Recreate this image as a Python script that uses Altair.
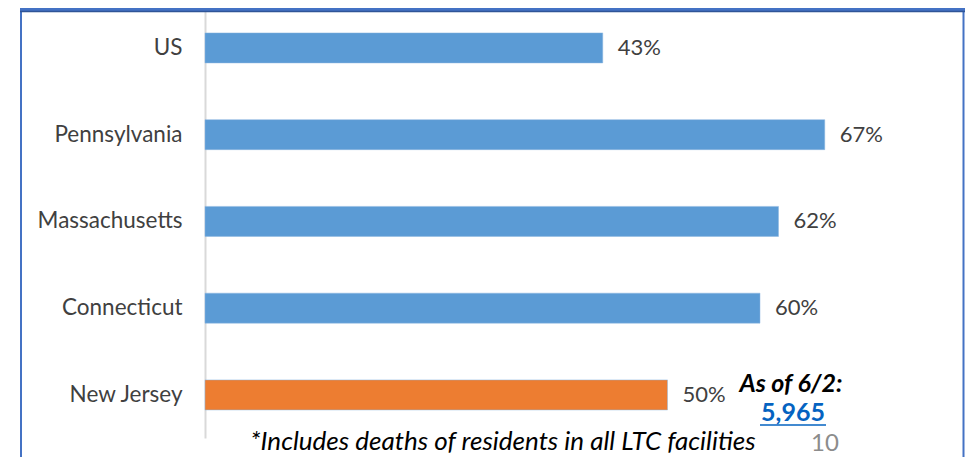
import altair as alt
import pandas as pd

states = ["US", "Pennsylvania", "Massachusetts", "Connecticut", "New Jersey"]
shares = [43, 67, 62, 60, 50]
labels = ["43%", "67%", "62%", "60%", "50%"]
highlight = ["other", "other", "other", "other", "NJ"]

footnote = "*Includes deaths of residents in all LTC facilities"
note_title = "As of 6/2:"
note_value = "5,965"
page_number = "10"

df = pd.DataFrame({"state": states, "share": shares, "label": labels, "group": highlight})

FONT = "Lato"
W, H = 740, 430

y_enc = alt.Y("state:N", sort=states, title=None,
              scale=alt.Scale(paddingInner=0.654, paddingOuter=0.3055, align=0.47),
              axis=alt.Axis(labelFont=FONT, labelFontSize=22.5, labelColor="#404040",
                            labelPadding=23, ticks=False, domain=True,
                            domainColor="#d9d9d9", domainWidth=2, grid=False))
x_enc = alt.X("share:Q", title=None, scale=alt.Scale(domain=[0, 80]), axis=None)

bars = alt.Chart(df).mark_bar(stroke="#8db6e0", strokeWidth=0.5).encode(
    x=x_enc, y=y_enc,
    color=alt.Color("group:N", scale=alt.Scale(domain=["other", "NJ"], range=["#5B9BD5", "#ED7D31"]), legend=None),
)

vals = alt.Chart(df).mark_text(align="left", baseline="middle", dx=15, font=FONT, fontSize=22,
                               color="#404040").encode(x=x_enc, y=y_enc, text="label:N")

foot = alt.Chart(pd.DataFrame({"t": [footnote]})).mark_text(
    font=FONT, fontSize=26, fontStyle="italic", color="#000000",
    align="center", baseline="alphabetic").encode(x=alt.value(298), y=alt.value(442), text="t:N")

t1 = alt.Chart(pd.DataFrame({"t": [note_title]})).mark_text(
    font=FONT, fontSize=25, fontStyle="italic", fontWeight="bold", color="#000000",
    align="center", baseline="alphabetic").encode(x=alt.value(586), y=alt.value(384), text="t:N")
t2 = alt.Chart(pd.DataFrame({"t": [note_value]})).mark_text(
    font=FONT, fontSize=25, fontWeight="bold", color="#0563C1",
    align="center", baseline="alphabetic").encode(x=alt.value(588), y=alt.value(413), text="t:N")
uline = alt.Chart(pd.DataFrame({"a": [0]})).mark_rule(color="#0563C1", strokeWidth=1.5).encode(
    x=alt.value(555), x2=alt.value(621), y=alt.value(417))

pg = alt.Chart(pd.DataFrame({"t": [page_number]})).mark_text(
    font=FONT, fontSize=24, color="#8c8c8c", align="center", baseline="alphabetic").encode(
    x=alt.value(620), y=alt.value(443), text="t:N")

# frame decorations
left_b = alt.Chart(pd.DataFrame({"a": [0]})).mark_rule(color="#4472C4", strokeWidth=2).encode(
    x=alt.value(-184), y=alt.value(0), y2=alt.value(449))
right_b = alt.Chart(pd.DataFrame({"a": [0]})).mark_rule(color="#4472C4", strokeWidth=2).encode(
    x=alt.value(758.5), y=alt.value(0), y2=alt.value(449))
top_b = alt.Chart(pd.DataFrame({"a": [0]})).mark_rect(color="#4472C4").encode(
    x=alt.value(-185), x2=alt.value(760), y=alt.value(0), y2=alt.value(3))
top_b2 = alt.Chart(pd.DataFrame({"a": [0]})).mark_rule(color="#2F5597", strokeWidth=1.5).encode(
    x=alt.value(-185), x2=alt.value(760), y=alt.value(3.5))

chart = alt.layer(bars, vals, foot, t1, t2, uline, pg, left_b, right_b, top_b, top_b2).properties(
    width=W, height=H,
    background="white",
    padding={"left": 197, "top": 0, "right": 20, "bottom": 19},
    autosize=alt.AutoSizeParams(type="none"),
).configure_view(strokeWidth=0, stroke="transparent")

chart.save("out.html", embed_options={"renderer": "svg", "actions": False})
